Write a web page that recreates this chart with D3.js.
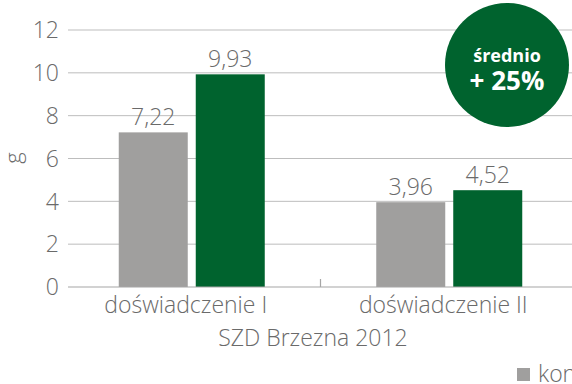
<!DOCTYPE html>
<html>
<head>
<meta charset="utf-8">
<script src="https://cdn.jsdelivr.net/npm/d3@7"></script>
<style>
  html, body { margin: 0; padding: 0; background: #fff; overflow: hidden; }
  svg { display: block; font-family: "Open Sans", sans-serif; }
</style>
</head>
<body>
<svg id="chart" width="572" height="384"></svg>
<script>
// Trial data: grain mass (g), two experiments at SZD Brzezna 2012
const categories = ["doświadczenie I", "doświadczenie II"];
const seriesNames = ["kontrola", "zaprawa"];
const kontrola = [7.22, 3.96];
const zaprawa = [9.93, 4.52];
const yTicks = [0, 2, 4, 6, 8, 10, 12];
const xTitle = "SZD Brzezna 2012";
const yTitle = "g";
const badgeLines = ["średnio", "+ 25%"];

const colors = { kontrola: "#a09f9e", zaprawa: "#00632e" };
const textColor = "#6a6a6a";
const fs = 23;
const fmt = v => d3.format(".2f")(v).replace(".", ",");

const svg = d3.select("#chart");

const y = d3.scaleLinear().domain([0, 12]).range([287, 30]);
const x = d3.scaleBand().domain(categories).range([63, 578]).paddingInner(0).paddingOuter(0);
const bw = x.bandwidth();
const xs = d3.scaleBand().domain(seriesNames)
  .range([bw / 2 - 73, bw / 2 + 73]).paddingInner(8 / 77).paddingOuter(0);

// Horizontal gridlines
svg.append("g").selectAll("line").data(yTicks.filter(d => d > 0)).join("line")
  .attr("x1", 68).attr("x2", 572)
  .attr("y1", d => y(d)).attr("y2", d => y(d))
  .attr("stroke", "#bdbdbd").attr("stroke-width", 1);

// Y tick labels
svg.append("g").selectAll("text").data(yTicks).join("text")
  .attr("x", 59).attr("y", d => y(d)).attr("dy", "0.36em")
  .attr("text-anchor", "end")
  .attr("font-size", fs).attr("font-weight", 300).attr("fill", textColor)
  .text(d => d);

// Y axis title
svg.append("text")
  .attr("transform", `translate(21,158) rotate(-90)`)
  .attr("text-anchor", "middle")
  .attr("font-size", 22).attr("font-weight", 300).attr("fill", textColor)
  .text(yTitle);

// Bars
const rows = categories.map((c, i) => ({ cat: c, values: [
  { s: "kontrola", v: kontrola[i] }, { s: "zaprawa", v: zaprawa[i] } ] }));

const groups = svg.append("g").selectAll("g").data(rows).join("g")
  .attr("transform", d => `translate(${x(d.cat)},0)`);

groups.selectAll("rect").data(d => d.values).join("rect")
  .attr("x", d => xs(d.s)).attr("width", xs.bandwidth())
  .attr("y", d => y(d.v)).attr("height", d => y(0) - y(d.v))
  .attr("fill", d => colors[d.s]);

groups.selectAll("text").data(d => d.values).join("text")
  .attr("x", d => xs(d.s) + xs.bandwidth() / 2)
  .attr("y", d => y(d.v) - 7)
  .attr("text-anchor", "middle")
  .attr("font-size", fs).attr("font-weight", 300).attr("fill", textColor)
  .text(d => fmt(d.v));

// X axis baseline and category separator tick
const axisG = svg.append("g").attr("transform", `translate(0,${y(0)})`);
axisG.append("line").attr("x1", 68).attr("x2", 572).attr("y1", 0).attr("y2", 0)
  .attr("stroke", "#a6a6a6").attr("stroke-width", 1.2);
axisG.selectAll("line.sep").data(categories.slice(1)).join("line")
  .attr("class", "sep")
  .attr("x1", d => x(d)).attr("x2", d => x(d)).attr("y1", 0).attr("y2", -8)
  .attr("stroke", "#a6a6a6").attr("stroke-width", 1.2);
axisG.selectAll("text.cat").data(categories).join("text")
  .attr("class", "cat")
  .attr("x", d => x(d) + bw / 2 - 6).attr("y", 26)
  .attr("text-anchor", "middle")
  .attr("font-size", fs).attr("font-weight", 300).attr("fill", textColor)
  .text(d => d);

// X axis title
svg.append("text")
  .attr("x", 313).attr("y", 346)
  .attr("text-anchor", "middle")
  .attr("font-size", fs).attr("font-weight", 300).attr("fill", textColor)
  .text(xTitle);

// Legend
const legend = svg.append("g").attr("transform", "translate(517,368)");
seriesNames.forEach((s, i) => {
  const g = legend.append("g").attr("transform", `translate(${i * 130},0)`);
  g.append("rect").attr("width", 13).attr("height", 13).attr("fill", colors[s]);
  g.append("text").attr("x", 21).attr("y", 14)
    .attr("font-size", fs).attr("font-weight", 300).attr("fill", textColor)
    .text(s);
});

// Average-gain badge
const badge = svg.append("g").attr("transform", "translate(507,65)");
badge.append("circle").attr("r", 62).attr("fill", colors.zaprawa);
badge.append("text").attr("y", -3).attr("text-anchor", "middle")
  .attr("font-size", 18).attr("font-weight", 700).attr("fill", "#fff")
  .text(badgeLines[0]);
badge.append("text").attr("y", 25).attr("text-anchor", "middle")
  .attr("font-size", 26).attr("font-weight", 700).attr("fill", "#fff")
  .text(badgeLines[1]);
</script>
</body>
</html>
